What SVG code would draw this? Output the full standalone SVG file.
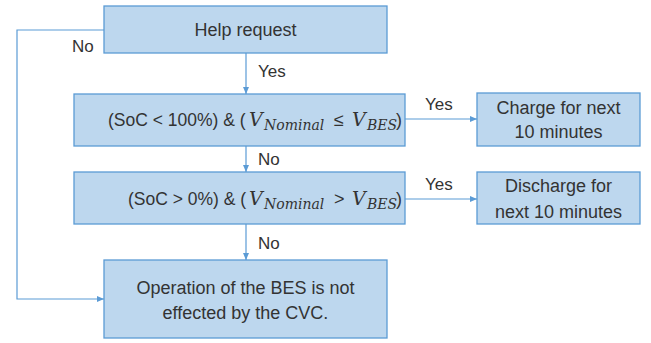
<svg xmlns="http://www.w3.org/2000/svg" width="651" height="343" viewBox="0 0 651 343">
<defs>
<style>
.box{fill:#bdd7ee;stroke:#5b9bd5;stroke-width:1.3}
.t{font-family:"Liberation Sans",Arial,sans-serif;font-size:18px;fill:#333;text-anchor:middle}
.l{font-family:"Liberation Sans",Arial,sans-serif;font-size:17px;fill:#333}
.m{font-family:"Liberation Sans",Arial,sans-serif;font-size:18px;fill:#333}
.p{font-size:17.5px}
.v{font-family:"DejaVu Serif","Liberation Serif",serif;font-style:italic;font-size:19px}
.s{font-family:"DejaVu Serif","Liberation Serif",serif;font-style:italic;font-size:14px}
.c{fill:none;stroke:#5b9bd5;stroke-width:1.2}
</style>
<marker id="a" markerWidth="8" markerHeight="8" refX="7" refY="4" orient="auto" markerUnits="userSpaceOnUse">
<path d="M0,1 L7,4 L0,7 Z" fill="#5b9bd5"/>
</marker>
</defs>
<rect width="651" height="343" fill="#fff"/>
<g id="connectors">
<path class="c" d="M246,53 V94" marker-end="url(#a)"/>
<path class="c" d="M246,146 V172" marker-end="url(#a)"/>
<path class="c" d="M246,224 V260" marker-end="url(#a)"/>
<path class="c" d="M405,119 H477" marker-end="url(#a)"/>
<path class="c" d="M405,199 H477" marker-end="url(#a)"/>
<path class="c" d="M104,30 H17 V299 H104" marker-end="url(#a)"/>
<text class="l" x="258" y="77">Yes</text>
<text class="l" x="258" y="165">No</text>
<text class="l" x="258" y="249">No</text>
<text class="l" x="72" y="52">No</text>
<text class="l" x="425" y="110">Yes</text>
<text class="l" x="425" y="190">Yes</text>
</g>
<g id="help">
<rect class="box" x="104" y="6" width="283" height="47"/>
<text class="t" x="245.5" y="36">Help request</text>
</g>
<g id="cond1">
<rect class="box" x="74" y="94" width="331" height="52"/>
<text class="m" x="108" y="126"><tspan class="p">(SoC &lt; 100%) &amp; (</tspan><tspan class="v" x="249">V</tspan><tspan class="s" x="264" dy="4">Nominal</tspan><tspan x="334" dy="-4">≤</tspan><tspan class="v" x="352">V</tspan><tspan class="s" x="367" dy="4">BES</tspan><tspan x="396" dy="-4">)</tspan></text>
</g>
<g id="cond2">
<rect class="box" x="74" y="172" width="331" height="52"/>
<text class="m" x="128" y="205"><tspan class="p">(SoC &gt; 0%) &amp; (</tspan><tspan class="v" x="249">V</tspan><tspan class="s" x="264" dy="4">Nominal</tspan><tspan x="334" dy="-4">&gt;</tspan><tspan class="v" x="352">V</tspan><tspan class="s" x="367" dy="4">BES</tspan><tspan x="396" dy="-4">)</tspan></text>
</g>
<g id="charge">
<rect class="box" x="477" y="93" width="163" height="53"/>
<text class="t" x="558.5" y="114">Charge for next</text>
<text class="t" x="558.5" y="138">10 minutes</text>
</g>
<g id="discharge">
<rect class="box" x="477" y="172" width="163" height="52"/>
<text class="t" x="558.5" y="192">Discharge for</text>
<text class="t" x="558.5" y="218">next 10 minutes</text>
</g>
<g id="operation">
<rect class="box" x="104" y="260" width="283" height="78"/>
<text class="t" x="245.5" y="294">Operation of the BES is not</text>
<text class="t" x="245.5" y="319">effected by the CVC.</text>
</g>
</svg>
